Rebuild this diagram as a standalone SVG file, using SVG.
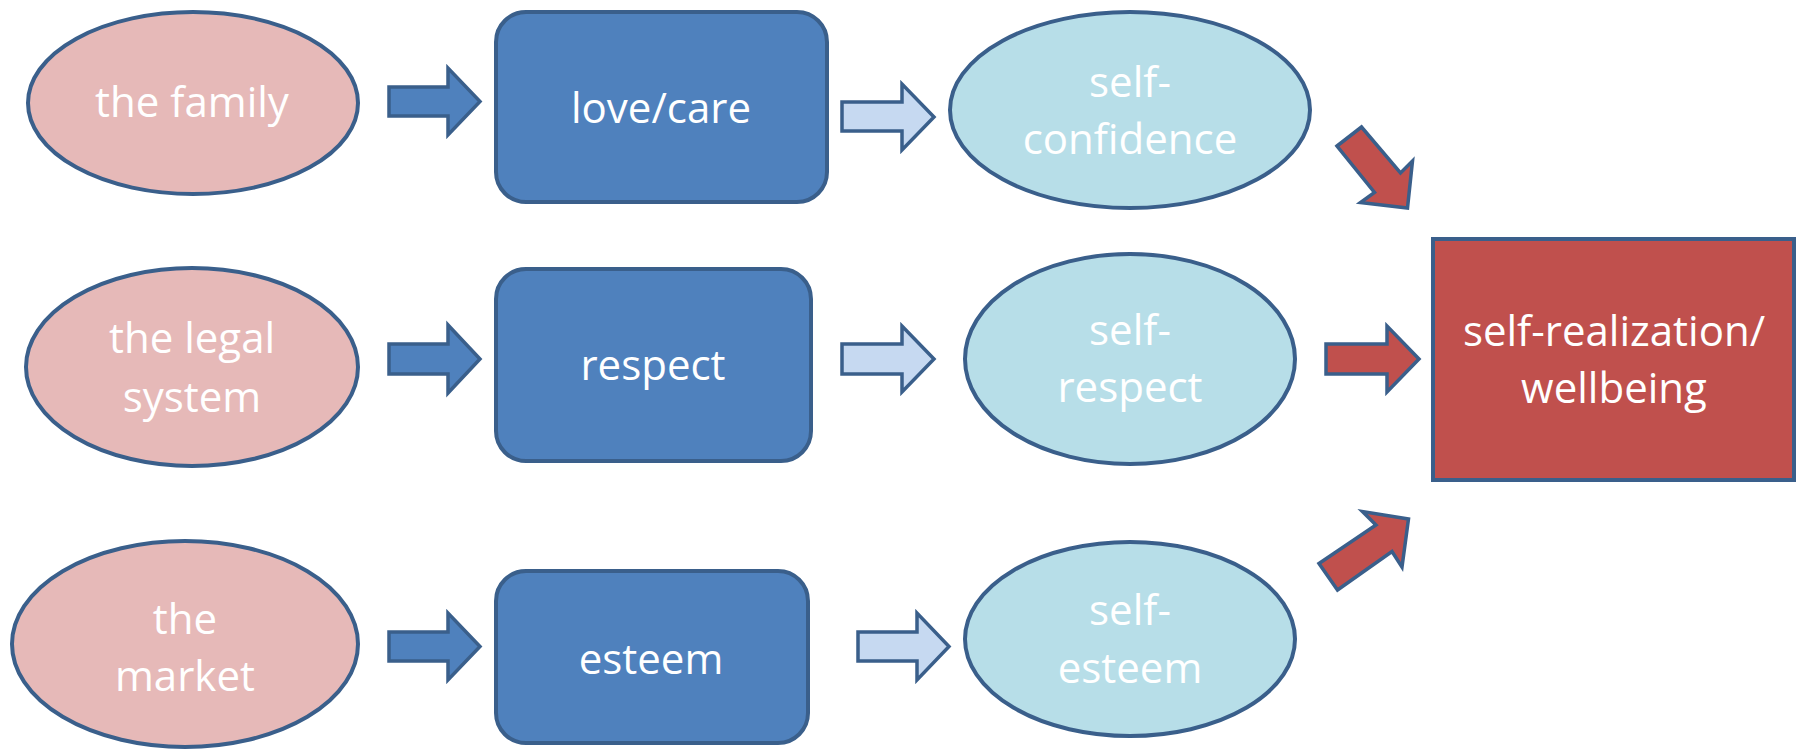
<svg xmlns="http://www.w3.org/2000/svg" width="1797" height="751" viewBox="0 0 1797 751">
<style>
  .ln { stroke: #3A5F8B; stroke-width: 4; stroke-linejoin: miter; }
  .pink { fill: #E6B9B8; }
  .blue { fill: #4F81BD; }
  .cyan { fill: #B7DEE8; }
  .light { fill: #C6D9F1; }
  .red { fill: #C0504D; }
  .arr { stroke: #3A5F8B; stroke-width: 3.5; stroke-linejoin: miter; }
  text { font-family: "Open Sans", "Noto Sans", "Liberation Sans", sans-serif; font-size: 42px; fill: #FFFFFF; text-anchor: middle; }
</style>
<rect width="1797" height="751" fill="#FFFFFF"/>

<g id="family">
  <ellipse class="pink ln" cx="193" cy="103" rx="165" ry="91"/>
  <text x="192" y="117">the family</text>
</g>
<g id="lovecare">
  <rect class="blue ln" x="496" y="12" width="331" height="190" rx="30" ry="30"/>
  <text x="661" y="123">love/care</text>
</g>
<g id="selfconfidence">
  <ellipse class="cyan ln" cx="1130" cy="110" rx="180" ry="98"/>
  <text x="1130" y="97">self-</text>
  <text x="1130" y="154">confidence</text>
</g>

<g id="legal">
  <ellipse class="pink ln" cx="192" cy="367" rx="166" ry="99"/>
  <text x="192" y="353">the legal</text>
  <text x="192" y="412">system</text>
</g>
<g id="respect">
  <rect class="blue ln" x="496" y="269" width="315" height="192" rx="30" ry="30"/>
  <text x="653" y="380">respect</text>
</g>
<g id="selfrespect">
  <ellipse class="cyan ln" cx="1130" cy="359" rx="165" ry="105"/>
  <text x="1130" y="345">self-</text>
  <text x="1130" y="402">respect</text>
</g>

<g id="market">
  <ellipse class="pink ln" cx="185" cy="644" rx="173" ry="103"/>
  <text x="185" y="634">the</text>
  <text x="185" y="691">market</text>
</g>
<g id="esteem">
  <rect class="blue ln" x="496" y="571" width="312" height="172" rx="30" ry="30"/>
  <text x="651" y="674">esteem</text>
</g>
<g id="selfesteem">
  <ellipse class="cyan ln" cx="1130" cy="639" rx="165" ry="97"/>
  <text x="1130" y="625">self-</text>
  <text x="1130" y="683">esteem</text>
</g>

<g id="wellbeing">
  <rect class="red ln" x="1433" y="239" width="361" height="241"/>
  <text x="1614" y="346">self-realization/</text>
  <text x="1614" y="403">wellbeing</text>
</g>

<g id="connectors">
  <path class="blue arr" d="M389,87 H448 V68 L480,101.5 L448,135 V116 H389 Z"/>
  <path class="light arr" d="M842,102 H902 V84 L934,117 L902,150 V131 H842 Z"/>
  <path class="blue arr" d="M389,344 H448 V325 L480,359 L448,393 V374 H389 Z"/>
  <path class="light arr" d="M842,344 H902 V326 L934,359 L902,392 V374 H842 Z"/>
  <path class="red arr" d="M1326,344 H1387 V326 L1419,359 L1387,392 V374 H1326 Z"/>
  <path class="blue arr" d="M389,632 H448 V613 L480,646.5 L448,680 V661 H389 Z"/>
  <path class="light arr" d="M858,632 H917 V613 L949,646.5 L917,680 V661 H858 Z"/>
  <path class="red arr" d="M1337,146 L1361.5,127 L1400.5,173 L1412.5,161 L1407.5,208 L1360.5,202.5 L1374.5,192.5 Z"/>
  <path class="red arr" d="M1319,563.5 L1337.5,590 L1392,551.5 L1402,567 L1408.5,519 L1362.5,511.5 L1376,525 Z"/>
</g>
</svg>
